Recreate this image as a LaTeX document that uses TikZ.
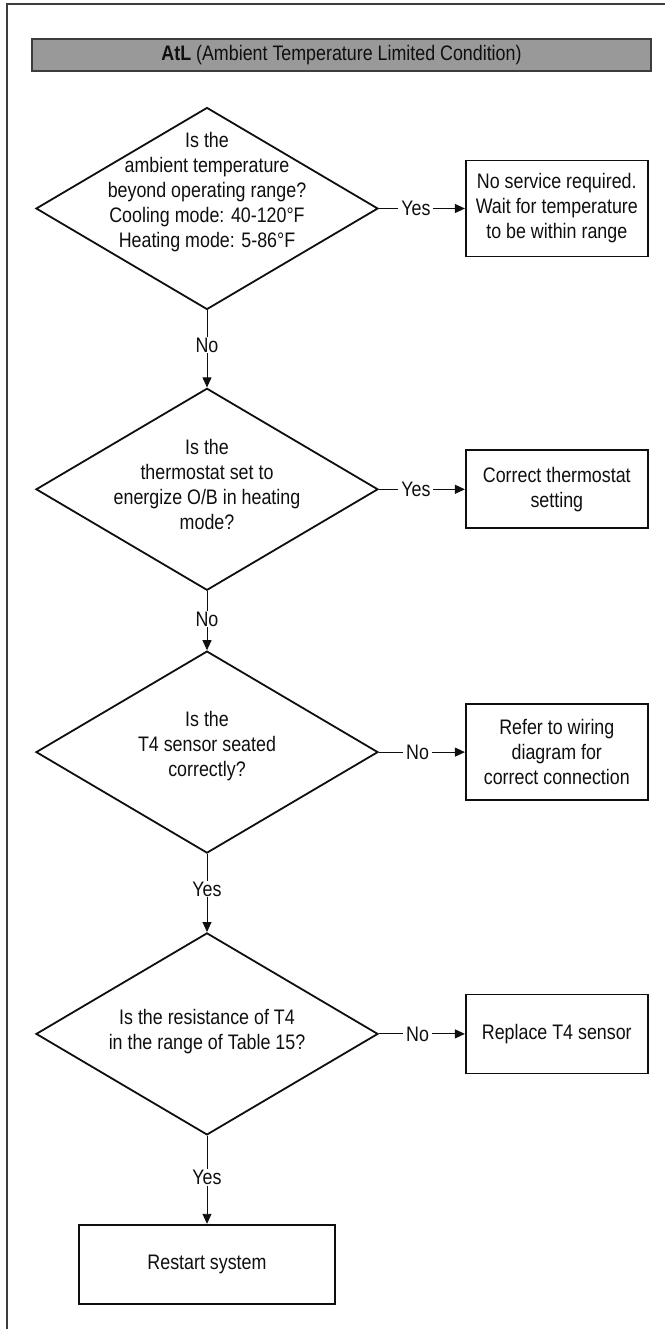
\documentclass[tikz,border=0pt]{standalone}
\usepackage{fontspec}
\setmainfont{Liberation Sans}[FakeStretch=0.85]
\usetikzlibrary{
  arrows.meta,
  positioning,
  shapes.geometric
}
\definecolor{atlLine}{RGB}{15,15,15}
\definecolor{atlBar}{RGB}{153,153,153}
\definecolor{atlFrame}{RGB}{60,60,60}
\definecolor{atlText}{RGB}{15,15,15}
\tikzset{
  atlfont/.style={
    font=\fontsize{21}{25}\selectfont,
    text=atlText
  },
  atlbox/.style={
    draw=atlLine,
    line width=1.8pt,
    align=center,
    minimum width=182pt,
    inner sep=0pt,
    fill=white,
    atlfont
  },
  atldecision/.style={
    draw=atlLine,
    line width=1.8pt,
    diamond,
    minimum width=342pt,
    minimum height=202pt,
    inner sep=0pt
  },
  atlquestion/.style={
    atlfont,
    align=center
  },
  atlarrow/.style={
    -{Triangle[length=10pt,width=9pt]},
    line width=0.9pt,
    draw=atlLine
  },
  atlanswer/.style={
    fill=white,
    inner xsep=3pt,
    inner ysep=1pt,
    atlfont
  },
  atlbar/.style={
    draw=atlFrame,
    line width=1.2pt,
    fill=atlBar,
    minimum width=619pt,
    minimum height=32pt,
    inner sep=0pt,
    atlfont
  }
}

\begin{document}
\begin{tikzpicture}[x=1pt, y=1pt, node distance=77pt and 86pt]
  \useasboundingbox (0,0) rectangle (665,-1329);
  \draw[atlFrame, line width=1.4pt] (7,-1329) -- (7,-4) -- (665,-4);

  \node[atlbar] (title) at (341.5,-55)
    {\textbf{AtL} (Ambient Temperature Limited Condition)};

  % question 1: ambient range
  \node[atldecision, label={[atlquestion, yshift=16pt]center:{Is the\\ambient temperature\\beyond operating range?\\Cooling mode: 40-120°F\\Heating mode: 5-86°F}}] (q1) at (207,-208.5) {};
  \node[atlbox, minimum height=96pt, right=of q1] (r1)
    {No service required.\\Wait for temperature\\to be within range};
  \draw[atlarrow] (q1.east) -- node[atlanswer, pos=0.43] {Yes} (r1.west);

  % question 2: thermostat
  \node[atldecision, below=of q1, label={[atlquestion, yshift=5pt]center:{Is the\\thermostat set to\\energize O/B in heating\\mode?}}] (q2) {};
  \node[atlbox, minimum height=78pt, right=of q2] (r2)
    {Correct thermostat\\setting};
  \draw[atlarrow] (q1.south) -- node[atlanswer, pos=0.45] {No} (q2.north);
  \draw[atlarrow] (q2.east) -- node[atlanswer, pos=0.43] {Yes} (r2.west);

  % question 3: sensor seated
  \node[atldecision, below=59pt of q2, label={[atlquestion, yshift=6pt]center:{Is the\\T4 sensor seated\\correctly?}}] (q3) {};
  \node[atlbox, minimum height=96pt, right=of q3] (r3)
    {Refer to wiring\\diagram for\\correct connection};
  \draw[atlarrow] (q2.south) -- node[atlanswer, pos=0.47] {No} (q3.north);
  \draw[atlarrow] (q3.east) -- node[atlanswer, pos=0.45] {No} (r3.west);

  % question 4: resistance
  \node[atldecision, below=78pt of q3, label={[atlquestion, yshift=2pt]center:{Is the resistance of T4\\in the range of Table 15?}}] (q4) {};
  \node[atlbox, minimum height=79pt, right=of q4] (r4)
    {Replace T4 sensor};
  \draw[atlarrow] (q3.south) -- node[atlanswer, pos=0.45] {Yes} (q4.north);
  \draw[atlarrow] (q4.east) -- node[atlanswer, pos=0.45] {No} (r4.west);

  \node[atlbox, minimum width=256pt, minimum height=79pt, below=88pt of q4] (done)
    {Restart system};
  \draw[atlarrow] (q4.south) -- node[atlanswer, pos=0.47] {Yes} (done.north);
\end{tikzpicture}
\end{document}
